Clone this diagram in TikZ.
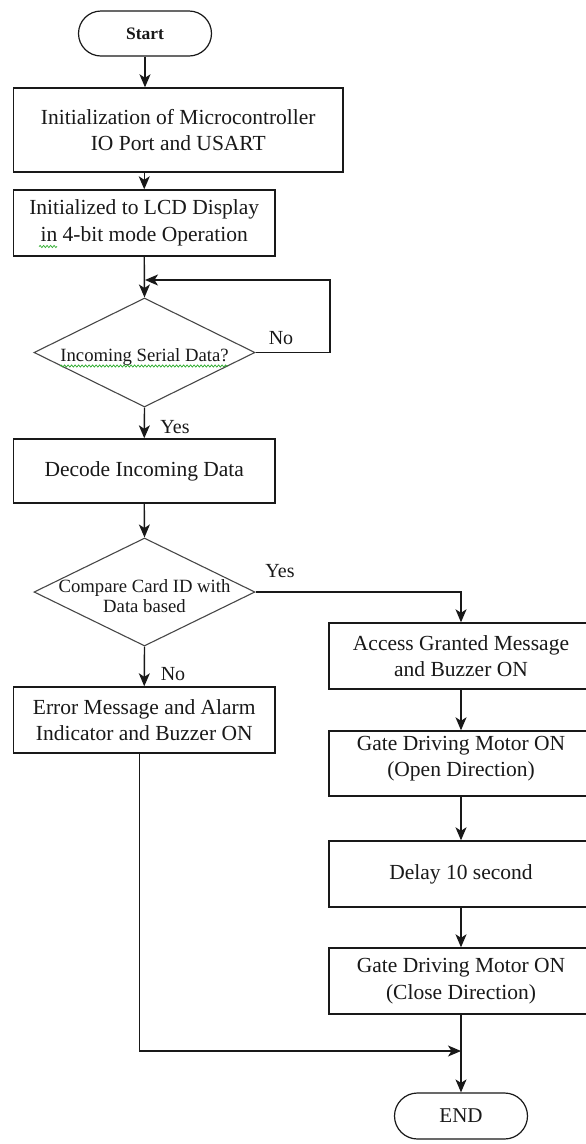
\documentclass[tikz,border=0pt]{standalone}
\usepackage{fontspec}
\setmainfont{Liberation Serif}
\usetikzlibrary{shapes.geometric,shapes.misc,arrows.meta,decorations.pathmorphing}
\definecolor{ink}{RGB}{25,25,25}
\definecolor{squiggle}{RGB}{40,170,40}
\begin{document}
\begin{tikzpicture}[x=1pt,y=-1pt,
  every node/.style={text=ink},
  box/.style={draw=ink, line width=1.4pt, rectangle, inner sep=0pt, align=center,
    font=\fontsize{21.5}{26.5}\selectfont},
  leftbox/.style={box, minimum width=261.5pt, minimum height=66pt},
  rightbox/.style={box, minimum width=264pt, minimum height=66pt},
  terminal/.style={draw=ink, line width=1.2pt, rounded rectangle, inner sep=0pt,
    minimum width=133pt, minimum height=45pt},
  decision/.style={draw=ink!80, line width=1.1pt, diamond, inner sep=0pt,
    minimum width=221pt, minimum height=109pt},
  dtext/.style={align=center, inner sep=0pt, font=\fontsize{18.7}{19.5}\selectfont},
  lbl/.style={inner sep=0pt, font=\fontsize{20}{24}\selectfont},
  line/.style={draw=ink, line width=1.4pt},
  arr/.style={line, -{Stealth[length=13pt,width=11pt,inset=3.5pt]}},
  wavy/.style={draw=squiggle, line width=0.7pt, decorate,
    decoration={snake, amplitude=1.1pt, segment length=3.5pt}}
]
\useasboundingbox[fill=white] (0,0) rectangle (586,1144);

% start and initialisation
\node[terminal, font=\bfseries\fontsize{17.5}{20}\selectfont] (start) at (145,33.5) {Start};
\node[box, minimum width=329.5pt, minimum height=84pt] (init) at (178.25,130)
  {Initialization of Microcontroller\\IO Port and USART};
\node[leftbox] (lcd) at (144.25,223) {Initialized to LCD Display\\in 4-bit mode Operation};

% wait for serial data
\node[decision] (serial) at (144.5,352.5) {};
\node[dtext] (serialt) at (144.5,357) {Incoming Serial Data?};
\coordinate (loopR) at (330,352.5);
\coordinate (loopIn) at (145,280);
\node[lbl] (noA) at (281,338) {No};

\node[leftbox, minimum height=64pt] (decode) at (144.25,471) {Decode Incoming Data};
\node[lbl] (yesA) at (175,427) {Yes};

% card check
\node[decision, minimum height=108pt] (compare) at (144.5,592) {};
\node[dtext] (comparet) at (144.5,596) {Compare Card ID with\\Data based};
\node[lbl] (yesB) at (280,571) {Yes};
\node[lbl] (noB) at (173,674) {No};

% rejected branch
\node[leftbox] (error) at (144.25,720) {Error Message and Alarm\\Indicator and Buzzer ON};

% accepted branch
\node[rightbox] (grant) at (461,656) {Access Granted Message\\and Buzzer ON};
\node[rightbox, minimum height=65pt, text depth=14pt] (open) at (461,763.5)
  {Gate Driving Motor ON\\(Open Direction)};
\node[rightbox] (delay) at (461,874) {Delay 10 second};
\node[rightbox] (close) at (461,981) {Gate Driving Motor ON\\(Close Direction)};

\coordinate (mergeL) at (139.5,1051);
\coordinate (merge) at (461,1051);
\node[terminal, minimum height=46pt, font=\fontsize{21}{24}\selectfont] (stop) at (461,1116) {END};

% connectors
\draw[arr] (start.south) -- (start.south |- init.north);
\draw[arr] (lcd.north |- init.south) -- (lcd.north);
\draw[arr] (lcd.south) -- (serial.north);
\draw[arr] (serial.east) -- (loopR) |- (loopIn);
\draw[arr] (serial.south) -- (decode.north);
\draw[arr] (decode.south) -- (compare.north);
\draw[arr] (compare.east) -| (grant.north);
\draw[arr] (compare.south) -- (error.north);
\draw[arr] (grant.south) -- (open.north);
\draw[arr] (open.south) -- (delay.north);
\draw[arr] (delay.south) -- (close.north);
\draw[arr] (close.south) -- (stop.north);
\draw[arr] (error.south -| mergeL) -- (mergeL) -- (merge);

% spell-check underlines
\draw[wavy] (39,246.5) -- (57,246.5);
\draw[wavy] (60,366) -- (228,366);
\end{tikzpicture}
\end{document}
